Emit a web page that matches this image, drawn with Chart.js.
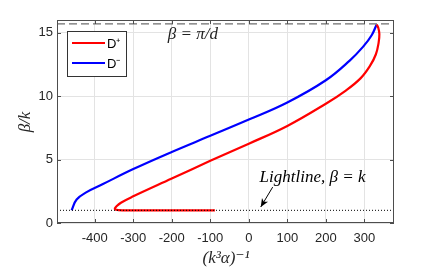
<!DOCTYPE html>
<html>
<head>
<meta charset="utf-8">
<script src="https://cdn.jsdelivr.net/npm/chart.js@4"></script>
<style>
  html, body { margin: 0; padding: 0; background: #fff; }
  #wrap { width: 436px; height: 270px; }
</style>
</head>
<body>
<div id="wrap"><canvas id="chart" width="436" height="270"></canvas></div>
<script>
// values: x = (k^3 alpha)^-1, y = beta/k
const dPlusX = [-88, -200, -300, -338, -348, -344, -332, -300, -200, -100, 0, 100, 200, 250, 290, 315, 330, 337, 339, 336, 332];
const dPlusY = [1.0, 1.0, 1.0, 1.02, 1.12, 1.3, 1.6, 2.1, 3.5, 4.9, 6.25, 7.65, 9.4, 10.4, 11.4, 12.4, 13.3, 14.2, 14.9, 15.4, 15.65];

const dMinusX = [-460, -447, -420, -380, -300, -200, -100, 0, 100, 200, 262, 297, 319, 332];
const dMinusY = [1.0, 1.85, 2.45, 3.05, 4.25, 5.6, 6.87, 8.15, 9.5, 11.25, 12.8, 13.9, 14.8, 15.65];

const xMin = -498;
const xMax = 377;
const yMin = 0;
const yMax = 16;
const xTicks = [-400, -300, -200, -100, 0, 100, 200, 300];
const yTicks = [0, 5, 10, 15];

const braggLevel = 15.7;   // beta = pi/d
const lightLevel = 1;      // beta = k

const seriesNames = ['D\u207A', 'D\u207B'];
const seriesColors = ['#ff0000', '#0000ff'];

// annotation anchors in data units
const braggLabelAt = [-145, 14.85];
const lightLabelAt = [28, 3.55];
const arrowFrom = [62, 2.83];
const arrowTo = [31, 1.26];

function toPoints(xs, ys){
    return xs.map((x, i) => ({ x: x, y: ys[i] }));
}

const mathFont = 'italic 17px "Liberation Serif", "DejaVu Serif", serif';

const extras = {
    id: 'extras',
    afterDraw(chart){
        const ctx = chart.ctx;
        const a = chart.chartArea;
        const xs = chart.scales.x;
        const ys = chart.scales.y;

        ctx.save();

        // box
        ctx.strokeStyle = '#4d4d4d';
        ctx.lineWidth = 1;
        ctx.strokeRect(a.left + 0.5, a.top + 0.5, a.right - a.left - 1, a.bottom - a.top - 1);

        // inward ticks
        ctx.beginPath();
        xTicks.forEach(v => {
            const p = Math.round(xs.getPixelForValue(v)) + 0.5;
            ctx.moveTo(p, a.bottom); ctx.lineTo(p, a.bottom - 4);
            ctx.moveTo(p, a.top); ctx.lineTo(p, a.top + 4);
        });
        yTicks.forEach(v => {
            const p = Math.round(ys.getPixelForValue(v)) + 0.5;
            ctx.moveTo(a.left, p); ctx.lineTo(a.left + 4, p);
            ctx.moveTo(a.right, p); ctx.lineTo(a.right - 4, p);
        });
        ctx.stroke();

        // legend
        const lx = 67, ly = 31, lw = 59, lh = 45;
        ctx.fillStyle = '#fff';
        ctx.fillRect(lx, ly, lw, lh);
        ctx.strokeStyle = '#333';
        ctx.strokeRect(lx + 0.5, ly + 0.5, lw, lh);
        ctx.font = '13px "Liberation Sans", Arial, sans-serif';
        ctx.textBaseline = 'middle';
        ctx.textAlign = 'left';
        seriesNames.forEach((name, i) => {
            const yy = ly + 12 + i * 20;
            ctx.strokeStyle = seriesColors[i];
            ctx.lineWidth = 2;
            ctx.beginPath();
            ctx.moveTo(lx + 5, yy); ctx.lineTo(lx + 38, yy);
            ctx.stroke();
            ctx.fillStyle = '#000';
            ctx.fillText(name, lx + 40, yy + 1);
        });

        // annotations
        ctx.fillStyle = '#222';
        ctx.font = mathFont;
        ctx.textAlign = 'center';
        ctx.fillText('\u03B2 = \u03C0/d', xs.getPixelForValue(braggLabelAt[0]), ys.getPixelForValue(braggLabelAt[1]));
        ctx.textAlign = 'left';
        ctx.fillStyle = '#000';
        ctx.fillText('Lightline, \u03B2 = k', xs.getPixelForValue(lightLabelAt[0]), ys.getPixelForValue(lightLabelAt[1]));

        // arrow
        const x1 = xs.getPixelForValue(arrowFrom[0]), y1 = ys.getPixelForValue(arrowFrom[1]);
        const x2 = xs.getPixelForValue(arrowTo[0]), y2 = ys.getPixelForValue(arrowTo[1]);
        const ang = Math.atan2(y2 - y1, x2 - x1);
        ctx.strokeStyle = '#000';
        ctx.lineWidth = 1;
        ctx.beginPath();
        ctx.moveTo(x1, y1); ctx.lineTo(x2, y2);
        ctx.stroke();
        ctx.beginPath();
        ctx.moveTo(x2, y2);
        ctx.lineTo(x2 - 9 * Math.cos(ang - 0.4), y2 - 9 * Math.sin(ang - 0.4));
        ctx.lineTo(x2 - 6 * Math.cos(ang), y2 - 6 * Math.sin(ang));
        ctx.lineTo(x2 - 9 * Math.cos(ang + 0.4), y2 - 9 * Math.sin(ang + 0.4));
        ctx.closePath();
        ctx.fill();

        // axis titles
        ctx.fillStyle = '#262626';
        ctx.textAlign = 'center';
        ctx.fillText('(k\u00B3\u03B1)\u207B\u00B9', 226, 259);
        ctx.translate(26, 122);
        ctx.rotate(-Math.PI / 2);
        ctx.fillText('\u03B2/k', 0, 0);

        ctx.restore();
    }
};

const chart = new Chart(document.getElementById('chart'), {
    type: 'scatter',
    data: {
        datasets: [
            {
                label: 'bragg',
                data: [{ x: xMin, y: braggLevel }, { x: xMax, y: braggLevel }],
                showLine: true,
                borderColor: '#6e6e6e',
                borderWidth: 1.3,
                borderDash: [8, 4],
                pointRadius: 0
            },
            {
                label: 'light',
                data: [{ x: xMin, y: lightLevel }, { x: xMax, y: lightLevel }],
                showLine: true,
                borderColor: '#000',
                borderWidth: 1,
                borderDash: [1, 2],
                pointRadius: 0
            },
            {
                label: seriesNames[0],
                data: toPoints(dPlusX, dPlusY),
                showLine: true,
                borderColor: seriesColors[0],
                borderWidth: 2.2,
                tension: 0.4,
                pointRadius: 0
            },
            {
                label: seriesNames[1],
                data: toPoints(dMinusX, dMinusY),
                showLine: true,
                borderColor: seriesColors[1],
                borderWidth: 2.2,
                tension: 0.4,
                pointRadius: 0
            }
        ]
    },
    options: {
        responsive: false,
        animation: false,
        layout: { padding: { top: 20, right: 42, left: 0, bottom: 0 } },
        plugins: {
            legend: { display: false },
            tooltip: { enabled: false }
        },
        scales: {
            x: {
                type: 'linear',
                min: xMin,
                max: xMax,
                afterBuildTicks: s => { s.ticks = xTicks.map(v => ({ value: v })); },
                afterFit: s => { s.height = 47; },
                grid: { color: '#e3e3e3', drawTicks: false },
                border: { display: false },
                ticks: {
                    color: '#262626',
                    padding: 8,
                    maxRotation: 0,
                    font: { family: '"Liberation Sans", Arial, sans-serif', size: 13 }
                }
            },
            y: {
                type: 'linear',
                min: yMin,
                max: yMax,
                afterBuildTicks: s => { s.ticks = yTicks.map(v => ({ value: v })); },
                afterFit: s => { s.width = 57; },
                grid: { color: '#e3e3e3', drawTicks: false },
                border: { display: false },
                ticks: {
                    color: '#262626',
                    padding: 4,
                    font: { family: '"Liberation Sans", Arial, sans-serif', size: 13 }
                }
            }
        }
    },
    plugins: [extras]
});
</script>
</body>
</html>
